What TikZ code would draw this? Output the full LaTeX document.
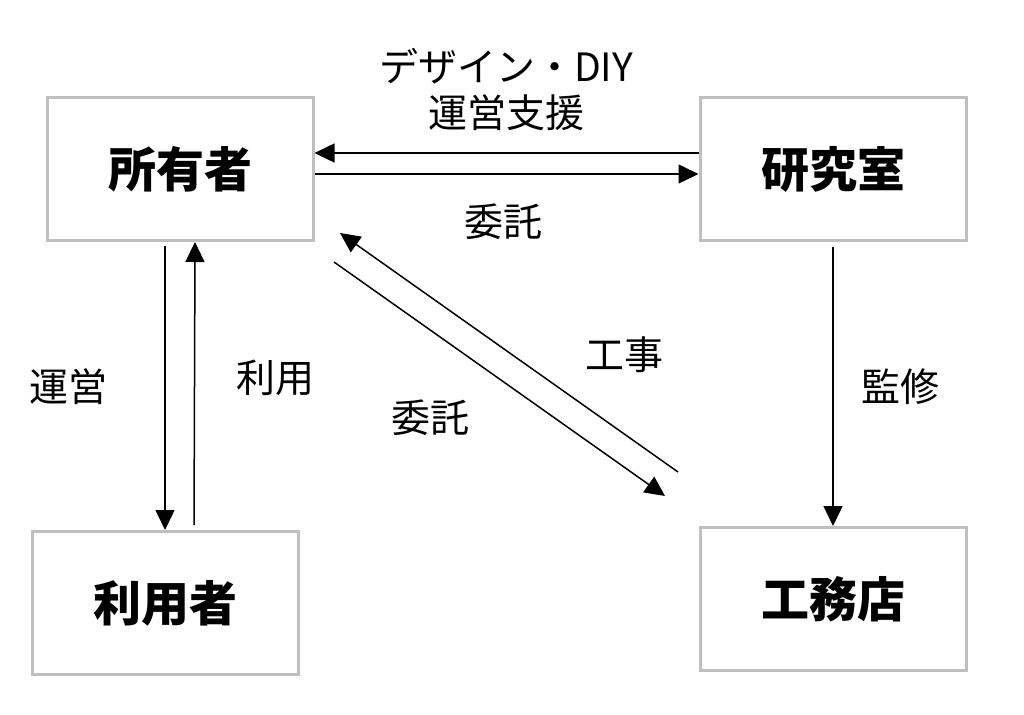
\documentclass[tikz,border=0pt]{standalone}
\usepackage{fontspec}
\setmainfont{Noto Sans CJK JP}
\usepackage{tikz}
\usetikzlibrary{arrows.meta}

\begin{document}
\begin{tikzpicture}[x=1pt, y=-1pt]
\tikzstyle{box}=[draw=black!25, line width=3pt, minimum width=266pt, minimum height=143pt, inner sep=0pt, font=\fontsize{48}{52}\selectfont\bfseries]
\tikzstyle{arr}=[line width=1.5pt, -{Triangle[length=20pt, width=19pt]}]
\tikzstyle{lbl}=[font=\fontsize{39}{46}\selectfont, inner sep=0pt, align=center]
\useasboundingbox (0,0) rectangle (1024,714);

\node[box] (owner) at (180,169) {所有者};
\node[box] (lab) at (833,169) {研究室};
\node[box] (user) at (165,603) {利用者};
\node[box] (builder) at (833,599) {工務店};

\coordinate (l1) at ([yshift=16pt]lab.west);
\coordinate (o1) at ([yshift=16pt]owner.east);
\coordinate (o2) at ([yshift=-5pt]owner.east);
\coordinate (l2) at ([yshift=-5pt]lab.west);
\coordinate (wA) at (678,472);
\coordinate (wB) at (340,233);
\coordinate (cA) at (334,262);
\coordinate (cB) at (665,496);

\draw[arr] (l1) -- (o1);
\draw[arr] (o2) -- (l2);
\draw[arr, shorten <=4pt] ([xshift=-15pt]owner.south) -- (user.north);
\draw[arr, shorten <=5pt] ([xshift=29pt]user.north) -- ([xshift=15pt]owner.south);
\draw[arr, shorten <=5pt] (lab.south) -- (builder.north);
\draw[arr] (wA) -- (wB);
\draw[arr] (cA) -- (cB);

\node[lbl] (design) at (506,90) {デザイン・DIY\\運営支援};
\node[lbl] (order1) at (503,222) {委託};
\node[lbl] (work) at (624,355) {工事};
\node[lbl] (order2) at (430,418) {委託};
\node[lbl] (manage) at (68,387) {運営};
\node[lbl] (use) at (275,378) {利用};
\node[lbl] (super) at (900,387) {監修};

\end{tikzpicture}
\end{document}
